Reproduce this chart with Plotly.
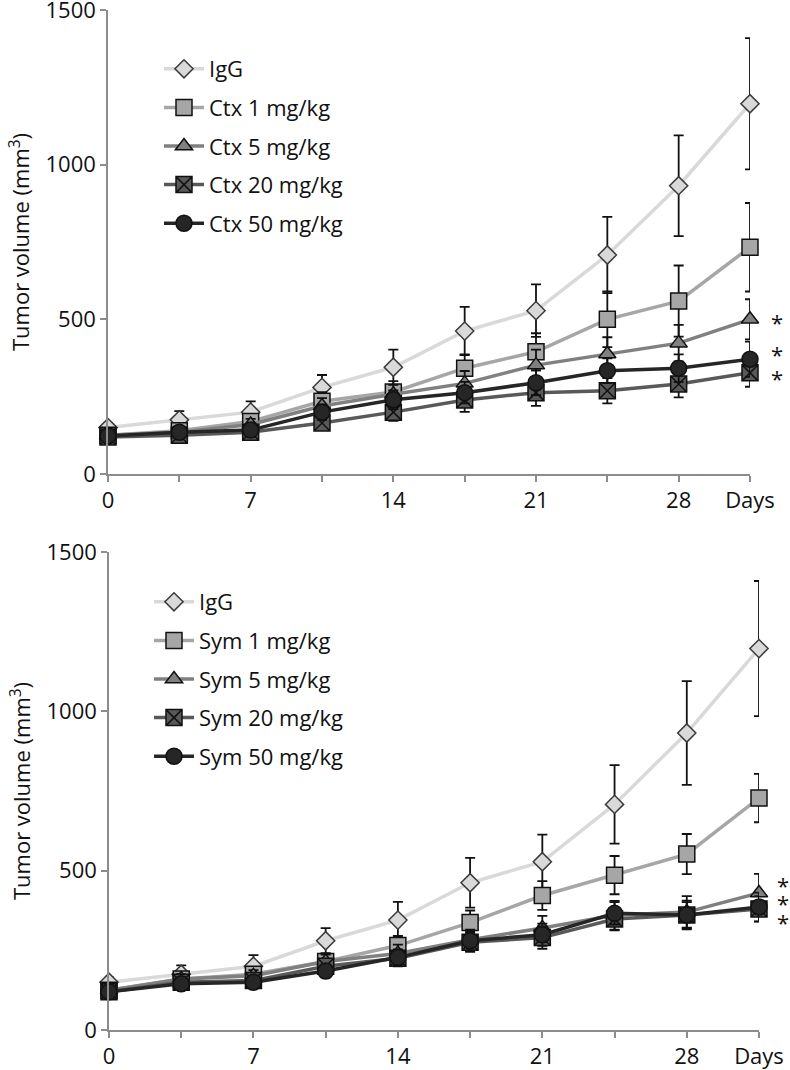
import plotly.graph_objects as go

days = [0, 3.5, 7, 10.5, 14, 17.5, 21, 24.5, 28, 31.5]
x_tick_text = ["0", "", "7", "", "14", "", "21", "", "28", "Days"]
y_ticks = [0, 500, 1000, 1500]

# Panel A (Ctx)
igg = [150, 175, 200, 280, 345, 462, 528, 708, 932, 1197]
igg_err = [15, 28, 35, 40, 57, 78, 85, 123, 163, 212]
ctx1 = [125, 140, 170, 235, 265, 342, 395, 500, 559, 733]
ctx1_err = [10, 15, 20, 30, 35, 45, 60, 90, 115, 143]
ctx5 = [125, 135, 160, 220, 258, 293, 352, 388, 423, 500]
ctx5_err = [10, 12, 18, 25, 30, 40, 50, 54, 59, 65]
ctx20 = [120, 125, 135, 165, 200, 239, 263, 269, 291, 327]
ctx20_err = [10, 12, 15, 22, 28, 38, 43, 41, 43, 45]
ctx50 = [123, 135, 142, 200, 240, 263, 295, 334, 342, 371]
ctx50_err = [10, 12, 15, 25, 30, 35, 40, 40, 45, 57]

# Panel B (Sym)
sym1 = [125, 160, 175, 215, 265, 337, 422, 486, 552, 728]
sym1_err = [10, 15, 20, 25, 30, 38, 45, 60, 63, 76]
sym5 = [125, 160, 170, 215, 240, 283, 320, 360, 370, 430]
sym5_err = [10, 15, 18, 22, 28, 32, 38, 45, 50, 60]
sym20 = [120, 150, 155, 200, 225, 275, 290, 348, 361, 380]
sym20_err = [10, 12, 15, 20, 25, 30, 35, 35, 40, 40]
sym50 = [120, 145, 150, 185, 228, 280, 299, 366, 361, 386]
sym50_err = [10, 12, 15, 20, 25, 30, 35, 35, 45, 45]

top_names = ["IgG", "Ctx 1 mg/kg", "Ctx 5 mg/kg", "Ctx 20 mg/kg", "Ctx 50 mg/kg"]
bot_names = ["IgG", "Sym 1 mg/kg", "Sym 5 mg/kg", "Sym 20 mg/kg", "Sym 50 mg/kg"]
top_vals = [igg, ctx1, ctx5, ctx20, ctx50]
top_errs = [igg_err, ctx1_err, ctx5_err, ctx20_err, ctx50_err]
bot_vals = [igg, sym1, sym5, sym20, sym50]
bot_errs = [igg_err, sym1_err, sym5_err, sym20_err, sym50_err]

top_stars = [498, 394, 317]
bot_stars = [468, 412, 352]

line_colors = ["#d9d9d9", "#a6a6a6", "#808080", "#595959", "#262626"]
fill_colors = ["#d9d9d9", "#a6a6a6", "#808080", "#595959", "#262626"]
edge_colors = ["#3a3a3a", "#111111", "#111111", "#111111", "#111111"]
symbols = ["diamond", "square", "triangle-up", "square-x", "circle"]
sizes = [14, 16, 15, 16, 16]

FONT = "Open Sans"
W, H = 790, 1070
MT, MB = 0, 40
PH = H - MT - MB

def py(pix):
    return (H - MB - pix) / PH

fig = go.Figure()

def add_panel(names, vals, errs, xa, ya, legend):
    for i, (n, v, e) in enumerate(zip(names, vals, errs)):
        fig.add_trace(go.Scatter(
            x=days, y=v, name=n, mode="lines+markers",
            xaxis=xa, yaxis=ya, legend=legend, legendgroup=legend + n,
            line=dict(color=line_colors[i], width=3.5),
            marker=dict(symbol=symbols[i], size=sizes[i], color=fill_colors[i],
                        line=dict(color=edge_colors[i], width=1.5)),
            error_y=dict(type="data", array=e, visible=True, color="#111111",
                         thickness=1.8, width=5),
            cliponaxis=False,
        ))

add_panel(top_names, top_vals, top_errs, "x", "y", "legend")
add_panel(bot_names, bot_vals, bot_errs, "x2", "y2", "legend2")

axis_common = dict(showgrid=False, zeroline=False, showline=True, linecolor="#8c8c8c",
                   linewidth=1.5, ticks="outside", tickcolor="#8c8c8c", ticklen=6,
                   tickwidth=1.5, ticklabeloverflow="allow", automargin=False,
                   tickfont=dict(family=FONT, size=22, color="#111111"))

xcommon = dict(axis_common, range=[0, 31.5], tickmode="array",
               tickvals=days, ticktext=x_tick_text)
ycommon = dict(axis_common, range=[0, 1500], tickmode="array", tickvals=y_ticks,
               title=dict(text="Tumor volume (mm<sup>3</sup>)",
                          font=dict(family=FONT, size=22, color="#111111"), standoff=10))

legend_common = dict(xanchor="left", yanchor="top",
                     font=dict(family=FONT, size=22, color="#111111"),
                     bgcolor="rgba(0,0,0,0)", tracegroupgap=7, itemwidth=40)

fig.update_layout(
    width=W, height=H,
    margin=dict(l=0, r=0, t=MT, b=MB, autoexpand=False),
    paper_bgcolor="white", plot_bgcolor="white",
    font=dict(family=FONT, color="#111111"),
    xaxis=dict(xcommon, domain=[108/W, 750/W], anchor="y"),
    yaxis=dict(ycommon, domain=[py(474), py(10)], anchor="x"),
    xaxis2=dict(xcommon, domain=[109/W, 759/W], anchor="y2"),
    yaxis2=dict(ycommon, domain=[py(1030), py(552)], anchor="x2"),
    legend=dict(legend_common, x=159/W, y=py(48)),
    legend2=dict(legend_common, x=149/W, y=py(581)),
    showlegend=True,
)

for yv in top_stars:
    fig.add_annotation(x=777/W, y=yv, xref="paper", yref="y", text="*", showarrow=False,
                       xanchor="center", yshift=-2,
                       font=dict(family=FONT, size=22, color="#111111"))
for yv in bot_stars:
    fig.add_annotation(x=783/W, y=yv, xref="paper", yref="y2", text="*", showarrow=False,
                       xanchor="center", yshift=-4,
                       font=dict(family=FONT, size=22, color="#111111"))

fig.write_html("out.html", config={"displayModeBar": False},
               post_script="document.body.style.margin='0px';document.body.style.overflow='hidden';")
